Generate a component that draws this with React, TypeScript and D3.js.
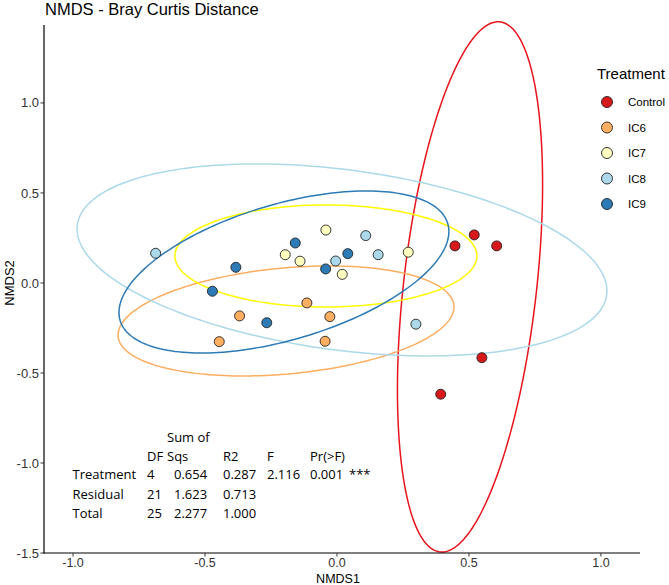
import React from 'react';
import * as d3 from 'd3';

// NMDS scores per sample
const treatment = [
  'Control', 'Control', 'Control', 'Control', 'Control',
  'IC6', 'IC6', 'IC6', 'IC6', 'IC6',
  'IC7', 'IC7', 'IC7', 'IC7', 'IC7',
  'IC8', 'IC8', 'IC8', 'IC8', 'IC8',
  'IC9', 'IC9', 'IC9', 'IC9', 'IC9', 'IC9',
];
const nmds1 = [
  0.447, 0.52, 0.605, 0.549, 0.393,
  -0.114, -0.369, -0.027, -0.446, -0.045,
  -0.042, -0.196, -0.14, 0.02, 0.27,
  -0.687, 0.109, 0.156, -0.005, 0.299,
  -0.158, 0.041, -0.383, -0.043, -0.472, -0.266,
];
const nmds2 = [
  0.206, 0.267, 0.206, -0.415, -0.618,
  -0.111, -0.183, -0.187, -0.326, -0.324,
  0.294, 0.157, 0.121, 0.048, 0.171,
  0.165, 0.263, 0.157, 0.122, -0.229,
  0.222, 0.163, 0.087, 0.078, -0.046, -0.221,
];

// confidence ellipses: centre and shape matrix (sxx, sxy, syy) per group
const groups = ['Control', 'IC6', 'IC7', 'IC8', 'IC9'];
const ellCx = [0.504, -0.193, -0.042, 0.019, -0.201];
const ellCy = [-0.022, -0.211, 0.15, 0.128, 0.061];
const ellSxx = [0.0756, 0.405, 0.3272, 1.0076, 0.3906];
const ellSxy = [0.1569, 0.0495, 0, -0.1729, 0.1406];
const ellSyy = [2.169, 0.0934, 0.0803, 0.2844, 0.2025];

// adonis table
const tableRows = ['Treatment', 'Residual', 'Total'];
const tableDf = ['4', '21', '25'];
const tableSS = ['0.654', '1.623', '2.277'];
const tableR2 = ['0.287', '0.713', '1.000'];
const tableF = ['2.116', '', ''];
const tableP = ['0.001', '', ''];

const xTicks = [-1.0, -0.5, 0.0, 0.5, 1.0];
const yTicks = [-1.5, -1.0, -0.5, 0.0, 0.5, 1.0];

const pointFill = ['#d7191c', '#fdae61', '#ffffbf', '#abd9e9', '#2c7bb6'];
const ellStroke = ['#e8141c', '#fdae61', '#ffff00', '#abd9e9', '#2c7bb6'];

const W = 669;
const H = 585;
const font = 'Liberation Sans, Arial, sans-serif';
const tableFont = 'Open Sans, sans-serif';

export default function App() {
  const x = d3.scaleLinear().domain([-1.11, 1.148]).range([44, 640]);
  const y = d3.scaleLinear().domain([-1.5, 1.433]).range([553, 25]);

  const line = d3.line<[number, number]>().x(d => x(d[0])).y(d => y(d[1]));

  const ellipsePath = (i: number) => {
    const ux = Math.sqrt(ellSxx[i]);
    const uy = ellSxy[i] / ux;
    const vy = Math.sqrt(ellSyy[i] - uy * uy);
    const pts: [number, number][] = d3.range(0, 201).map(k => {
      const t = (k / 200) * 2 * Math.PI;
      return [ellCx[i] + ux * Math.cos(t), ellCy[i] + uy * Math.cos(t) + vy * Math.sin(t)];
    });
    return line(pts) || '';
  };

  const colOf = (g: string) => groups.indexOf(g);

  return (
    <svg width={W} height={H} style={{ position: 'absolute', left: 0, top: 0, background: '#fff' }}
      fontFamily={font}>
      <text x={45} y={15} fontSize={16.5} fill="#000">NMDS - Bray Curtis Distance</text>

      {/* ellipses */}
      {groups.map((g, i) => (
        <path key={g} d={ellipsePath(i)} fill="none" stroke={ellStroke[i]} strokeWidth={1.5} />
      ))}

      {/* points */}
      {nmds1.map((v, i) => (
        <circle key={i} cx={x(v)} cy={y(nmds2[i])} r={5}
          fill={pointFill[colOf(treatment[i])]} stroke="#222" strokeWidth={0.9} />
      ))}

      {/* axes */}
      <line x1={44} x2={44} y1={25} y2={553.5} stroke="#000" strokeWidth={1.2} />
      <line x1={43.5} x2={640} y1={553} y2={553} stroke="#000" strokeWidth={1.2} />
      {yTicks.map(t => (
        <g key={t}>
          <line x1={40.5} x2={44} y1={y(t)} y2={y(t)} stroke="#333" />
          <text x={39} y={y(t)} dy="0.35em" textAnchor="end" fontSize={13} fill="#333">
            {t.toFixed(1)}
          </text>
        </g>
      ))}
      {xTicks.map(t => (
        <g key={t}>
          <line x1={x(t)} x2={x(t)} y1={553} y2={556.5} stroke="#333" />
          <text x={x(t)} y={567} textAnchor="middle" fontSize={12.5} fill="#333">
            {t.toFixed(1)}
          </text>
        </g>
      ))}
      <text x={338} y={583} textAnchor="middle" fontSize={12.5} fill="#000">NMDS1</text>
      <text transform={`translate(14,${y(0)}) rotate(-90)`} textAnchor="middle" fontSize={13} fill="#000">
        NMDS2
      </text>

      {/* legend */}
      <text x={597} y={79} fontSize={15} fill="#000">Treatment</text>
      {groups.map((g, i) => (
        <g key={g} transform={`translate(0,${102 + i * 25.5})`}>
          <circle cx={607} cy={0} r={5.5} fill={pointFill[i]} stroke="#222" strokeWidth={0.9} />
          <text x={628} y={0} dy="0.35em" fontSize={11.5} fill="#000">{g}</text>
        </g>
      ))}

      {/* permanova table */}
      <g fontFamily={tableFont} fontSize={13} fill="#000">
        <text x={167} y={442}>Sum of</text>
        <text x={147} y={461}>DF</text>
        <text x={167} y={461}>Sqs</text>
        <text x={223} y={461}>R2</text>
        <text x={267} y={461}>F</text>
        <text x={310} y={461}>Pr(&gt;F)</text>
        {tableRows.map((r, i) => (
          <g key={r} transform={`translate(0,${479 + i * 19.5})`}>
            <text x={72.5}>{r}</text>
            <text x={147}>{tableDf[i]}</text>
            <text x={174}>{tableSS[i]}</text>
            <text x={223}>{tableR2[i]}</text>
            <text x={267}>{tableF[i]}</text>
            <text x={310}>{tableP[i]}</text>
          </g>
        ))}
        <text x={349} y={479}>***</text>
      </g>
    </svg>
  );
}
